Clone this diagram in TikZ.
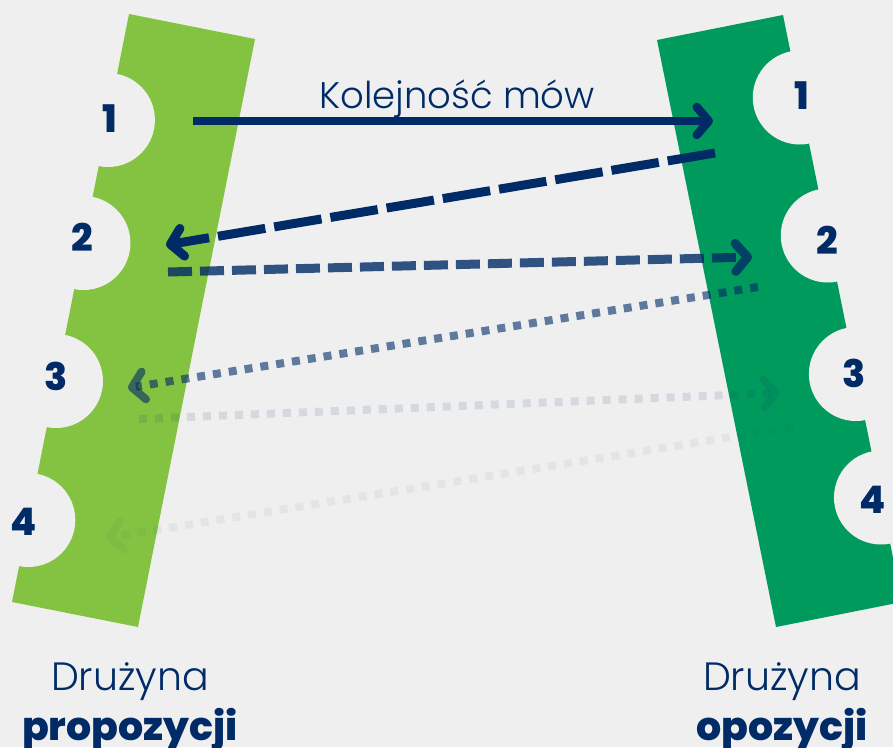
\documentclass[tikz,border=0pt]{standalone}
\usepackage{fontspec}
\setmainfont{Poppins}[UprightFont={* Light},BoldFont={* ExtraBold}]
\usetikzlibrary{arrows.meta}
\definecolor{bgray}{HTML}{EFEFEF}
\definecolor{propgreen}{HTML}{84C341}
\definecolor{oppgreen}{HTML}{009B5C}
\definecolor{navy}{HTML}{002B66}
\tikzset{
  notch/.style={fill=bgray},
  num/.style={text=navy, inner sep=0pt, font=\bfseries\fontsize{38}{38}\selectfont},
  label/.style={text=navy, inner sep=0pt, anchor=base, font=\fontsize{37}{37}\selectfont},
  teamname/.style={text=navy, inner sep=0pt, anchor=base, font=\bfseries\fontsize{39.5}{40}\selectfont},
  turn/.style={draw=navy, line width=9pt,
    -{Straight Barb[length=12pt, width=28pt, round]}},
}
\begin{document}
\begin{tikzpicture}[x=1pt, y=-1pt]
  \fill[bgray] (0,0) rectangle (893,747);
  \clip (0,0) rectangle (893,747);
  % the two teams
  \fill[propgreen] (129,14) -- (255,39) -- (138,627) -- (12,602) -- cycle;
  \fill[oppgreen] (657,40) -- (783,15) -- (902,602) -- (776,627) -- cycle;
  \foreach \y in {120,243,381,520}
    \fill[notch] ({129-0.199*(\y-14)},\y) circle (47pt);
  \foreach \y in {97.5,235.5,374,497.5}
    \fill[notch] ({783+0.203*(\y-15)},\y) circle (47pt);
  % speakers
  \foreach \i/\x/\y in {1/110/118.5,2/82/237,3/56/376,4/24/522}
    \node[num] (prop\i) at (\x,\y) {\i};
  \foreach \i/\x/\y in {1/802/96,2/827/240,3/854/373,4/873/500}
    \node[num] (opp\i) at (\x,\y) {\i};
  % ends of the arrows
  \coordinate (s1) at (193,121);  \coordinate (e1) at (713,121);
  \coordinate (s2) at (715,153);  \coordinate (e2) at (166,245);
  \coordinate (s3) at (168,272);  \coordinate (e3) at (752,257);
  \coordinate (s4) at (758,287);  \coordinate (e4) at (128,388);
  \coordinate (s5) at (139,419);  \coordinate (e5) at (780,393);
  \coordinate (s6) at (793,427);  \coordinate (e6) at (106,538);
  \draw[turn, line width=8.5pt] (s1) -- (e1);
  \draw[turn, dash pattern=on 48pt off 9pt] (s2) -- (e2);
  \draw[turn, draw opacity=.8, dash pattern=on 24pt off 8pt] (s3) -- (e3);
  \draw[turn, draw opacity=.6, line width=8pt, dash pattern=on 8pt off 8pt] (s4) -- (e4);
  \draw[turn, draw opacity=.11, line width=8pt, dash pattern=on 8pt off 8pt] (s5) -- (e5);
  \draw[turn, draw opacity=.05, line width=8pt, dash pattern=on 8pt off 8pt] (s6) -- (e6);
  % texts
  \node[label] (order) at (457,108) {Kolejność mów};
  \node[label, font=\fontsize{39.5}{40}\selectfont] (propname) at (130,690) {Drużyna};
  \node[teamname] (propteam) at (130,740) {propozycji};
  \node[label, font=\fontsize{39.5}{40}\selectfont] (oppname) at (782,690) {Drużyna};
  \node[teamname] (oppteam) at (782,740) {opozycji};
\end{tikzpicture}
\end{document}
